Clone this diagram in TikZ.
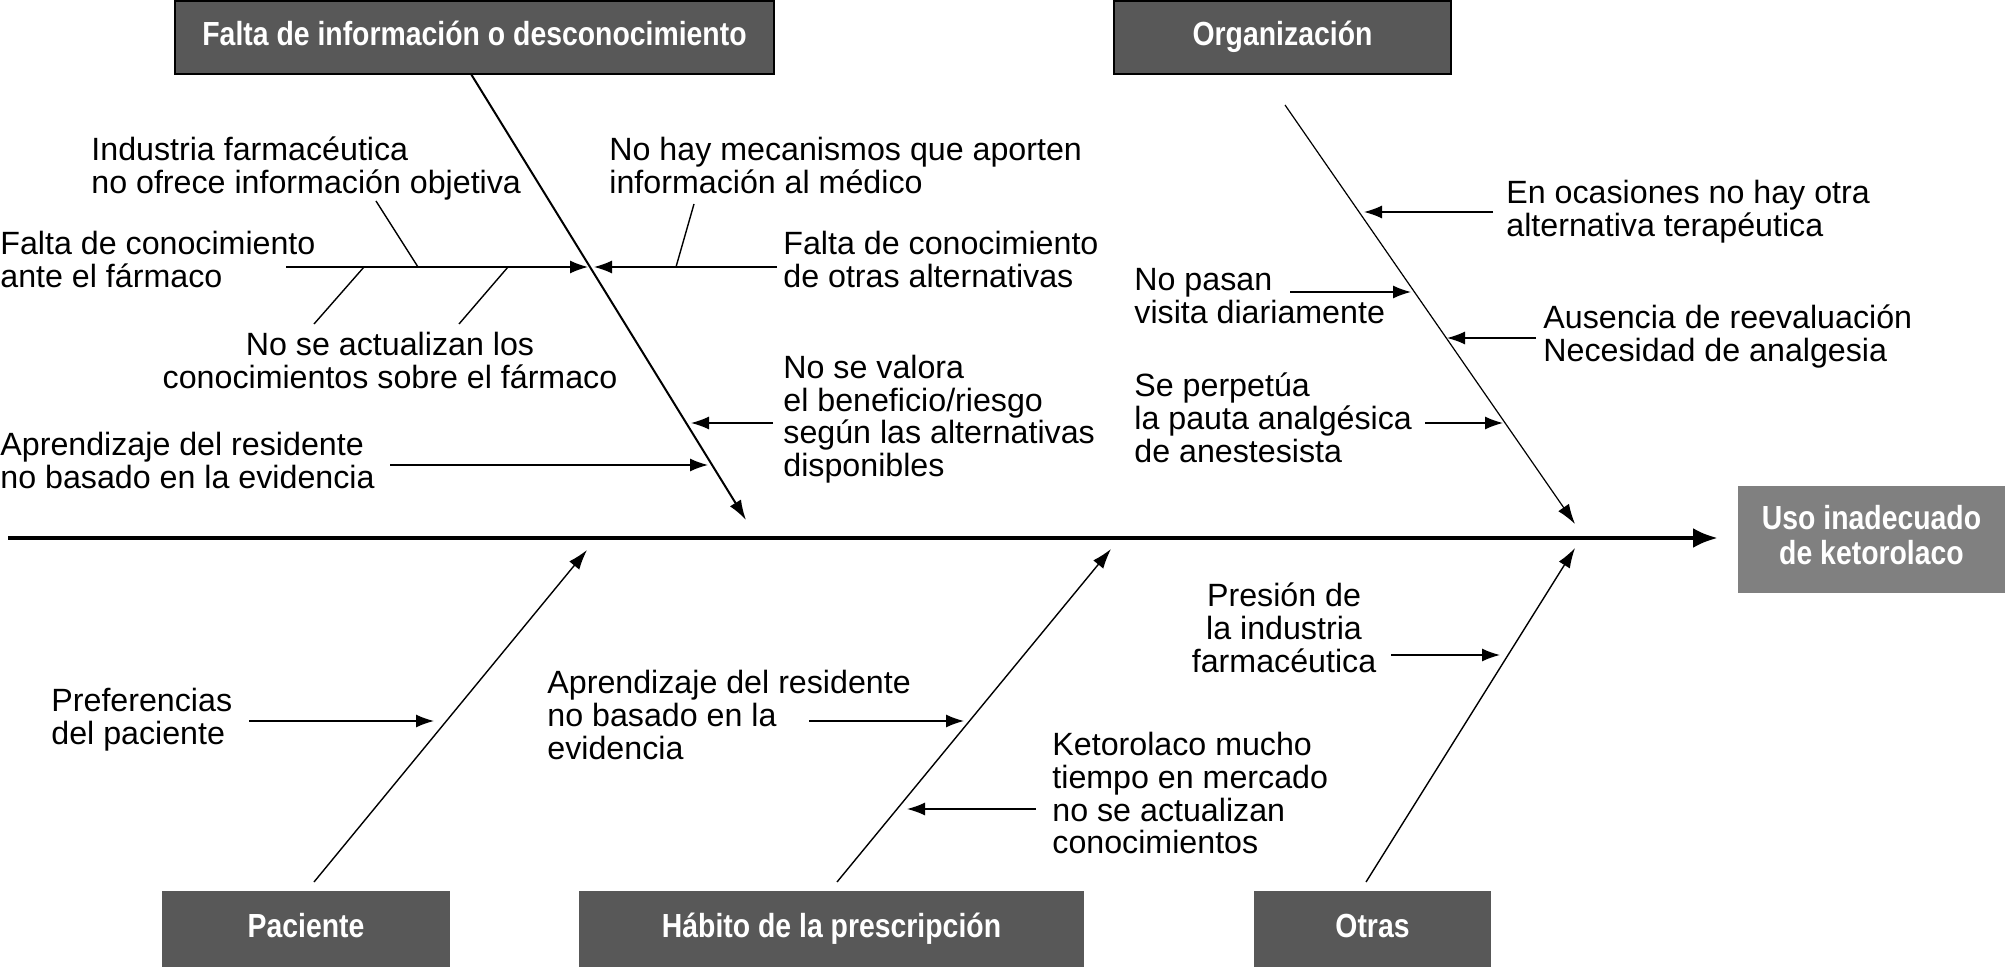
\documentclass[tikz,border=0pt]{standalone}
\usepackage{fontspec}
\setmainfont{Liberation Sans}
\newfontfamily\boxfont[FakeStretch=0.85]{Liberation Sans}
\usetikzlibrary{arrows.meta}
\definecolor{boxgray}{RGB}{88,88,88}
\definecolor{effgray}{RGB}{128,128,128}
\newcommand{\mystrut}{\rule{0pt}{12pt}}
\begin{document}
\begin{tikzpicture}[x=0.5pt,y=-0.5pt,
  lbl/.style={font=\fontsize{16.1}{16.4}\selectfont, align=left, anchor=north west, inner sep=0pt},
  clbl/.style={lbl, align=center, anchor=north},
  catbox/.style={fill=boxgray, draw=black, line width=0.75pt, text=white,
    font=\boxfont\bfseries\fontsize{16.7}{17.25}\selectfont, inner sep=0pt, align=center,
    text height=12pt, text depth=4pt},
  botbox/.style={catbox, draw=none},
  effbox/.style={fill=effgray, text=white,
    font=\boxfont\bfseries\fontsize{16.7}{17.25}\selectfont, inner sep=0pt, align=center},
  bone/.style={line width=0.7pt, -{Latex[length=10pt,width=6.5pt]}},
  subarrow/.style={line width=0.7pt, -{Latex[length=9pt,width=6.5pt]}},
  twig/.style={line width=0.7pt},
  spine/.style={line width=2.25pt, -{Latex[length=12.5pt,width=10pt]}}
]
\useasboundingbox (0,0) rectangle (2005,967);

% category boxes
\node[catbox, minimum width=299.5pt, minimum height=36.5pt] (cat1) at (474.5,37.5) {Falta de información o desconocimiento};
\node[catbox, minimum width=168.5pt, minimum height=36.5pt] (cat2) at (1282.5,37.5) {Organización};
\node[botbox, minimum width=144pt, minimum height=38pt] (cat3) at (306,929) {Paciente};
\node[botbox, minimum width=252.5pt, minimum height=38pt] (cat4) at (831.5,929) {Hábito de la prescripción};
\node[botbox, minimum width=118.5pt, minimum height=38pt] (cat5) at (1372.5,929) {Otras};
\node[effbox, minimum width=133.5pt, minimum height=53.5pt] (eff) at (1871.5,539.5) {};
\node[effbox, fill=none] (efftext) at (1871.5,535) {Uso inadecuado\\de ketorolaco};

% spine
\coordinate (sp0) at (8,538);
\coordinate (sp1) at (1718,538);
\draw[spine] (sp0) -- (sp1);

% bone endpoints
\coordinate (b1s) at (471,74);   \coordinate (b1e) at (746,520);
\coordinate (b2s) at (1285,105); \coordinate (b2e) at (1575,524);
\coordinate (b3s) at (314,882);  \coordinate (b3e) at (587,550);
\coordinate (b4s) at (837,882);  \coordinate (b4e) at (1111,549);
\coordinate (b5s) at (1366,882); \coordinate (b5e) at (1575,548);
\draw[bone, line width=1pt] (b1s) -- (b1e);
\draw[bone, line width=0.6pt] (b2s) -- (b2e);
\draw[bone] (b3s) -- (b3e);
\draw[bone] (b4s) -- (b4e);
\draw[bone] (b5s) -- (b5e);

% labels
\node[lbl] (ind) at (91,136) {\mystrut Industria farmacéutica\\no ofrece información objetiva};
\node[lbl] (nohay) at (609,136) {\mystrut No hay mecanismos que aporten\\información al médico};
\node[lbl] (fcl) at (0,230) {\mystrut Falta de conocimiento\\ante el fármaco};
\node[lbl] (fcr) at (783,230) {\mystrut Falta de conocimiento\\de otras alternativas};
\node[clbl] (noact) at (390,331) {\mystrut No se actualizan los\\conocimientos sobre el fármaco};
\node[lbl] (valora) at (783,354) {\mystrut No se valora\\el beneficio/riesgo\\según las alternativas\\disponibles};
\node[lbl] (apr1) at (0,431) {\mystrut Aprendizaje del residente\\no basado en la evidencia};
\node[lbl] (enoc) at (1506,179) {\mystrut En ocasiones no hay otra\\alternativa terapéutica};
\node[lbl] (nopasan) at (1134,266) {\mystrut No pasan\\visita diariamente};
\node[lbl] (aus) at (1543,304) {\mystrut Ausencia de reevaluación\\Necesidad de analgesia};
\node[lbl] (perp) at (1134,372) {\mystrut Se perpetúa\\la pauta analgésica\\de anestesista};
\node[lbl] (pref) at (51,687) {\mystrut Preferencias\\del paciente};
\node[lbl] (apr2) at (547,669) {\mystrut Aprendizaje del residente\\no basado en la\\evidencia};
\node[clbl] (pres) at (1284,582) {\mystrut Presión de\\la industria\\farmacéutica};
\node[lbl] (keto) at (1052,731) {\mystrut Ketorolaco mucho\\tiempo en mercado\\no se actualizan\\conocimientos};

% sub arrows on bone 1
\coordinate (a1t) at (286,267); \coordinate (a1h) at (588,267);
\coordinate (a2t) at (777,267); \coordinate (a2h) at (594,267);
\coordinate (a3t) at (773,423); \coordinate (a3h) at (691,423);
\coordinate (a4t) at (390,465); \coordinate (a4h) at (708,465);
\draw[subarrow] (a1t) -- (a1h);
\draw[subarrow] (a2t) -- (a2h);
\draw[subarrow] (a3t) -- (a3h);
\draw[subarrow] (a4t) -- (a4h);
% twigs
\coordinate (w1a) at (376,201); \coordinate (w1b) at (418,267);
\coordinate (w2a) at (364,267); \coordinate (w2b) at (314,324);
\coordinate (w3a) at (508,267); \coordinate (w3b) at (459,324);
\coordinate (w4a) at (694,204); \coordinate (w4b) at (676,267);
\draw[twig] (w1a) -- (w1b);
\draw[twig] (w2a) -- (w2b);
\draw[twig] (w3a) -- (w3b);
\draw[twig] (w4a) -- (w4b);

% sub arrows on bone 2
\coordinate (c1t) at (1493,212); \coordinate (c1h) at (1364,212);
\coordinate (c2t) at (1290,292); \coordinate (c2h) at (1411,292);
\coordinate (c3t) at (1536,338); \coordinate (c3h) at (1447,338);
\coordinate (c4t) at (1425,423); \coordinate (c4h) at (1503,423);
\draw[subarrow] (c1t) -- (c1h);
\draw[subarrow] (c2t) -- (c2h);
\draw[subarrow] (c3t) -- (c3h);
\draw[subarrow] (c4t) -- (c4h);

% bottom sub arrows
\coordinate (d1t) at (249,721);  \coordinate (d1h) at (434,721);
\coordinate (d2t) at (809,721);  \coordinate (d2h) at (964,721);
\coordinate (d3t) at (1036,809); \coordinate (d3h) at (907,809);
\coordinate (d4t) at (1391,655); \coordinate (d4h) at (1500,655);
\draw[subarrow] (d1t) -- (d1h);
\draw[subarrow] (d2t) -- (d2h);
\draw[subarrow] (d3t) -- (d3h);
\draw[subarrow] (d4t) -- (d4h);
\end{tikzpicture}
\end{document}
